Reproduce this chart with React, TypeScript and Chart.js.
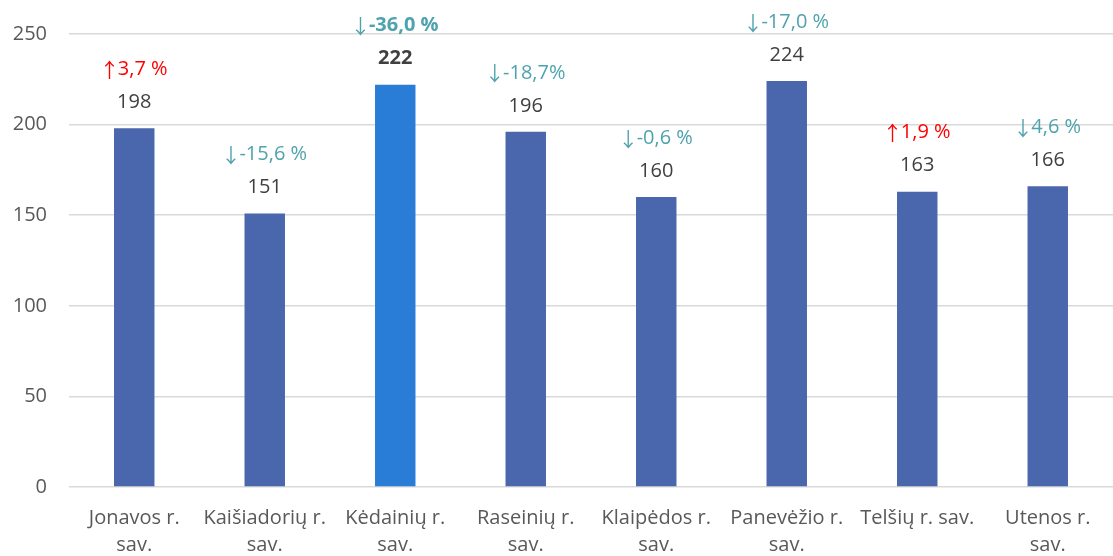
import React, { useEffect, useRef } from "react";
import { Chart, registerables } from "chart.js";

Chart.register(...registerables);

const categories: string[][] = [
  ["Jonavos r.", "sav."],
  ["Kaišiadorių r.", "sav."],
  ["Kėdainių r.", "sav."],
  ["Raseinių r.", "sav."],
  ["Klaipėdos r.", "sav."],
  ["Panevėžio r.", "sav."],
  ["Telšių r. sav."],
  ["Utenos r.", "sav."],
];
const values: number[] = [198, 151, 222, 196, 160, 224, 163, 166];
const changeText: string[] = ["3,7 %", "-15,6 %", "-36,0 %", "-18,7%", "-0,6 %", "-17,0 %", "1,9 %", "4,6 %"];
const changeUp: boolean[] = [true, false, false, false, false, false, true, false];
const highlightIndex = 2;
const yTicks: number[] = [0, 50, 100, 150, 200, 250];

const FONT = "'Open Sans', 'DejaVu Sans', sans-serif";
const ARROW_FONT = "'Noto Sans CJK SC', 'DejaVu Sans', sans-serif";
const BAR = "#4A66AC";
const BAR_HI = "#2A7DD6";
const TEAL = "#4FA3AE";
const RED = "#FF0000";

const labelPlugin = {
  id: "barLabels",
  afterDatasetsDraw(chart: any) {
    const ctx = chart.ctx;
    const meta = chart.getDatasetMeta(0);
    ctx.save();
    ctx.textBaseline = "middle";
    meta.data.forEach((bar: any, i: number) => {
      const x = bar.x;
      const y = bar.y;
      const bold = i === highlightIndex;
      const f = `${bold ? "bold " : ""}20px ${FONT}`;
      ctx.font = f;
      ctx.textAlign = "center";
      ctx.fillStyle = "#404040";
      ctx.fillText(String(values[i]), x, y - 26);

      const arrow = changeUp[i] ? "↑" : "↓";
      ctx.fillStyle = changeUp[i] ? RED : TEAL;
      ctx.font = `20px ${ARROW_FONT}`;
      const aw = ctx.measureText(arrow).width * 0.85;
      ctx.font = f;
      const tw = ctx.measureText(changeText[i]).width;
      const start = x - (aw + tw) / 2;
      ctx.textAlign = "left";
      ctx.font = `20px ${ARROW_FONT}`;
      ctx.fillText(arrow, start - aw * 0.08, y - 58);
      ctx.font = f;
      ctx.fillText(changeText[i], start + aw, y - 59);
    });
    ctx.restore();
  },
};

export default function App() {
  const ref = useRef<HTMLCanvasElement | null>(null);
  useEffect(() => {
    if (!ref.current) return;
    const chart = new Chart(ref.current, {
      type: "bar",
      data: {
        labels: categories,
        datasets: [
          {
            data: values,
            backgroundColor: values.map((_, i) => (i === highlightIndex ? BAR_HI : BAR)),
            categoryPercentage: 1,
            barPercentage: 0.31,
          },
        ],
      },
      options: {
        animation: false,
        responsive: false,
        maintainAspectRatio: false,
        layout: { padding: { top: 32, left: 0, right: 0, bottom: 0 } },
        plugins: { legend: { display: false }, tooltip: { enabled: false } },
        scales: {
          x: {
            grid: { display: false },
            border: { display: false },
            afterFit: (scale: any) => {
              scale.height = 69;
            },
            ticks: {
              font: { family: FONT, size: 20, lineHeight: 1.35 },
              color: "#595959",
              padding: 10,
              maxRotation: 0,
              autoSkip: false,
            },
          },
          y: {
            min: 0,
            max: 250,
            afterBuildTicks: (axis: any) => {
              axis.ticks = yTicks.map((v) => ({ value: v }));
            },
            afterFit: (scale: any) => {
              scale.width = 69;
            },
            grid: { color: "#D9D9D9", lineWidth: 1.5, drawTicks: false },
            border: { display: false },
            ticks: {
              font: { family: FONT, size: 20 },
              color: "#595959",
              padding: 22,
            },
          },
        },
      },
      plugins: [labelPlugin],
    });
    return () => chart.destroy();
  }, []);
  return (
    <div style={{ position: "fixed", left: 0, top: 0, width: 1113, height: 556, background: "#fff" }}>
      <canvas ref={ref} width={1113} height={556} />
    </div>
  );
}
